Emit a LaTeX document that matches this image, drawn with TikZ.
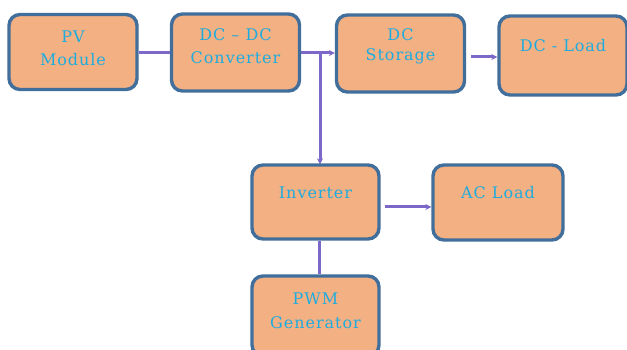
\documentclass[tikz,border=0pt]{standalone}
\usepackage{fontspec}
\setmainfont{DejaVu Serif}[LetterSpace=6]
\usetikzlibrary{arrows.meta}
\definecolor{boxfill}{RGB}{243,176,131}
\definecolor{boxline}{RGB}{65,110,155}
\definecolor{txt}{RGB}{30,172,222}
\definecolor{conn}{RGB}{123,104,200}
\tikzset{
  blk/.style={draw=boxline, line width=3.4pt, fill=boxfill, rounded corners=11pt,
    minimum width=128pt, inner sep=0pt},
  lbl/.style={text=txt, font=\fontsize{16}{23}\selectfont, align=center},
  conn/.style={draw=conn, line width=3pt},
  arr/.style={conn, -{Stealth[length=6pt,width=6pt]}}
}
\begin{document}
\begin{tikzpicture}[x=1pt,y=1pt]
\useasboundingbox (0,0) rectangle (627,-350);
\node[blk, minimum height=75pt] (pv) at (73,-52) {};
\node[lbl] at (73,-48) {PV\\Module};
\node[blk, minimum height=77pt] (dcdc) at (235.5,-52.5) {};
\node[lbl] at (235.5,-46) {DC -- DC\\Converter};
\node[blk, minimum height=77pt] (st) at (400.5,-53.5) {};
\node[lbl, font=\fontsize{16}{20}\selectfont] at (400.5,-46) {DC\\Storage};
\node[blk, minimum height=79pt] (dcl) at (563,-55.5) {};
\node[lbl] at (563,-46) {DC - Load};
\node[blk, minimum height=74pt, minimum width=127pt] (inv) at (315.5,-202) {};
\node[lbl] at (315.5,-193) {Inverter};
\node[blk, minimum height=75pt, minimum width=130pt] (ac) at (498,-202.5) {};
\node[lbl] at (498,-193) {AC Load};
\node[blk, minimum height=80pt, minimum width=127pt] (pwm) at (315.5,-316) {};
\node[lbl, font=\fontsize{16}{24}\selectfont] at (315.5,-311) {PWM\\Generator};
\coordinate (j) at (320,-53);
\draw[conn] (pv.east |- 0,-53) -- (dcdc.west |- 0,-53);
\draw[arr] (dcdc.east |- j) -- (st.west |- j);
\draw[arr, shorten >=-1pt] (j) -- (j |- inv.north);
\coordinate (s1) at (471,-57);
\draw[arr] (s1) -- (dcl.west |- s1);
\coordinate (i1) at (385,-207);
\draw[arr] (i1) -- (ac.west |- i1);
\draw[conn] (inv.south -| 319,0) -- (pwm.north -| 319,0);
\end{tikzpicture}
\end{document}
